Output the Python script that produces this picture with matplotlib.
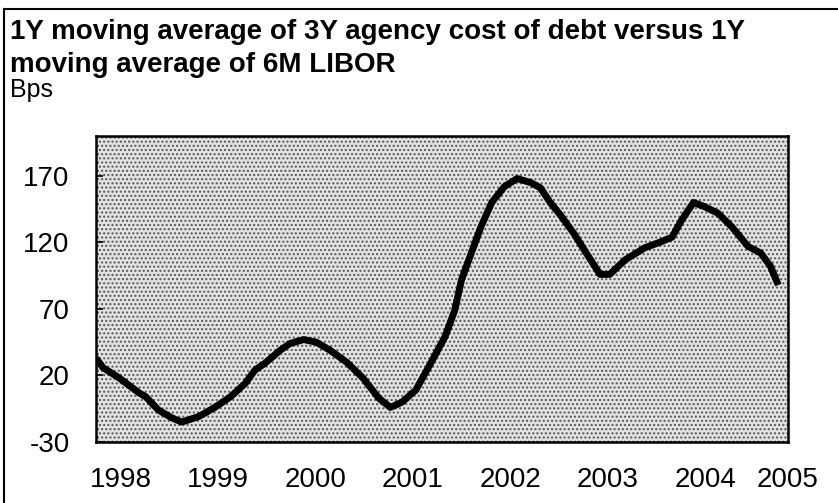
import matplotlib
matplotlib.use("Agg")
import matplotlib.pyplot as plt
from matplotlib.lines import Line2D
from matplotlib.patches import Rectangle

plt.rcParams['font.family'] = ['Liberation Sans', 'DejaVu Sans']
plt.rcParams['axes.unicode_minus'] = False
plt.rcParams['hatch.linewidth'] = 1.0

# 1Y moving average spread (bps)
years = [1997.75, 1997.82, 1997.99, 1998.19, 1998.26, 1998.39, 1998.53, 1998.63,
         1998.80, 1998.97, 1999.13, 1999.28, 1999.38, 1999.48, 1999.64, 1999.74,
         1999.88, 2000.01, 2000.15, 2000.32, 2000.49, 2000.65, 2000.77, 2000.89,
         2001.03, 2001.16, 2001.33, 2001.43, 2001.50, 2001.60, 2001.70, 2001.81,
         2001.94, 2002.07, 2002.21, 2002.31, 2002.41, 2002.51, 2002.65, 2002.78,
         2002.92, 2003.02, 2003.18, 2003.38, 2003.53, 2003.66, 2003.76, 2003.88,
         2003.99, 2004.13, 2004.27, 2004.44, 2004.57, 2004.67, 2004.75]
spread = [33, 26, 18, 7, 4, -6, -12, -15,
          -11, -4, 4, 14, 24, 29, 39, 44,
          47, 45, 39, 30, 18, 3, -4, 0,
          9, 26, 49, 69, 92, 112, 132, 150,
          162, 168, 165, 161, 150, 141, 127, 112,
          96, 96, 107, 116, 120, 124, 137, 150,
          147, 142, 132, 117, 112, 102, 88]

yticks = [-30, 20, 70, 120, 170]
xlabel_pos = [1998, 1999, 2000, 2001, 2002, 2003, 2004, 2004.85]
xlabels = ['1998', '1999', '2000', '2001', '2002', '2003', '2004', '2005']
xmarks = [1999, 2000, 2001, 2002, 2003, 2004]

fig = plt.figure(figsize=(8.38, 5.03), dpi=100)
ax = fig.add_axes([0.1146, 0.1213, 0.8258, 0.6083])

# stippled background
ax.patch.set_facecolor('#e2e2e2')
ax.add_patch(Rectangle((0, 0), 1, 1, transform=ax.transAxes, facecolor='none',
                       edgecolor='#555555', linewidth=0, hatch='....', zorder=0))

ax.plot(years, spread, color='black', linewidth=5, solid_capstyle='butt', zorder=3)

ax.set_xlim(1997.75, 2004.76)
ax.set_ylim(-30, 200)

ax.set_yticks(yticks)
ax.tick_params(axis='y', direction='in', length=5, width=1.2, pad=19, labelsize=20)

ax.set_xticks(xlabel_pos)
ax.set_xticklabels(xlabels)
ax.tick_params(axis='x', length=0, pad=18, labelsize=20)
ax.set_xticks(xmarks, minor=True)
ax.tick_params(axis='x', which='minor', direction='in', length=7, width=1.5)

for s in ax.spines.values():
    s.set_linewidth(1.8)

fig.text(0.012, 0.962, '1Y moving average of 3Y agency cost of debt versus 1Y\nmoving average of 6M LIBOR',
         fontsize=20, fontweight='bold', va='top', ha='left', linespacing=1.35)
fig.text(0.012, 0.822, 'Bps', fontsize=18, va='center', ha='left')

# frame around the exhibit (left and top only)
fig.add_artist(Line2D([0.005, 0.005], [0.0, 0.983], color='black', linewidth=1.5))
fig.add_artist(Line2D([0.005, 1.0], [0.983, 0.983], color='black', linewidth=1.5))

fig.savefig('out.png', dpi=100)
